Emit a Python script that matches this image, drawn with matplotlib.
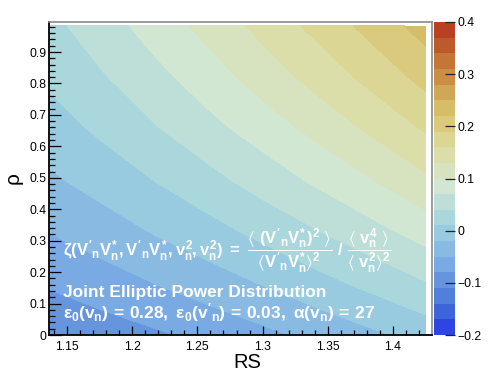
import numpy as np
import matplotlib
matplotlib.use("Agg")
import matplotlib.pyplot as plt
from matplotlib.colors import ListedColormap, BoundaryNorm, LinearSegmentedColormap
from matplotlib.ticker import MultipleLocator, FixedLocator, FixedFormatter

# ---------------- data ----------------
rs = [1.137, 1.178, 1.219, 1.260, 1.301, 1.342, 1.383, 1.425]
rho = [0.0, 0.16, 0.33, 0.49, 0.66, 0.82, 0.983]
zeta = [
    [-0.106, -0.095, -0.084, -0.071, -0.057, -0.042, -0.026, -0.008],
    [-0.077, -0.064, -0.050, -0.035, -0.019, -0.001, 0.017, 0.037],
    [-0.049, -0.034, -0.017, 0.000, 0.019, 0.039, 0.060, 0.083],
    [-0.025, -0.008, 0.011, 0.031, 0.053, 0.075, 0.098, 0.124],
    [-0.003, 0.017, 0.039, 0.062, 0.085, 0.110, 0.136, 0.164],
    [0.016, 0.038, 0.062, 0.087, 0.114, 0.141, 0.169, 0.200],
    [0.032, 0.057, 0.084, 0.111, 0.140, 0.169, 0.200, 0.233],
]
z_min, z_max, n_levels = -0.2, 0.4, 20
x_ticks = [1.15, 1.2, 1.25, 1.3, 1.35, 1.4]
x_labels = ["1.15", "1.2", "1.25", "1.3", "1.35", "1.4"]
y_ticks = [0, 0.1, 0.2, 0.3, 0.4, 0.5, 0.6, 0.7, 0.8, 0.9]
y_labels = ["0", "0.1", "0.2", "0.3", "0.4", "0.5", "0.6", "0.7", "0.8", "0.9"]
cb_ticks = [-0.2, -0.1, 0.0, 0.1, 0.2, 0.3, 0.4]
cb_labels = ["\u22120.2", "\u22120.1", "0", "0.1", "0.2", "0.3", "0.4"]

# ---------------- style ----------------
plt.rcParams["font.family"] = ["Liberation Sans", "DejaVu Sans"]
plt.rcParams["mathtext.fontset"] = "custom"
plt.rcParams["mathtext.rm"] = "Liberation Sans:bold"
plt.rcParams["mathtext.it"] = "Liberation Sans:bold"
plt.rcParams["mathtext.bf"] = "Liberation Sans:bold"
plt.rcParams["mathtext.sf"] = "Liberation Sans:bold"
plt.rcParams["mathtext.fallback"] = "stixsans"

# ROOT kLightTemperature palette
stops = [0, .125, .25, .375, .5, .625, .75, .875, 1]
red = [31, 71, 123, 160, 210, 222, 214, 199, 183]
green = [40, 117, 171, 211, 231, 220, 190, 132, 65]
blue = [234, 214, 228, 222, 210, 160, 105, 60, 34]
pal = LinearSegmentedColormap.from_list(
    "lt", [(s, (r / 255, g / 255, b / 255)) for s, r, g, b in zip(stops, red, green, blue)])
band_colors = [pal(min((i + 0.99) / n_levels, 1.0)) for i in range(n_levels)]
cmap = ListedColormap(band_colors)
levels = np.linspace(z_min, z_max, n_levels + 1)
norm = BoundaryNorm(levels, cmap.N)

W, H = 491, 374
fig = plt.figure(figsize=(W / 100, H / 100), dpi=100)
L, R, T, B = 49, 432, 22, 335
ax = fig.add_axes([L / W, 1 - B / H, (R - L) / W, (B - T) / H])
cax = fig.add_axes([434 / W, 1 - B / H, 21 / W, (B - T) / H])

X, Y = np.meshgrid(rs, rho)
cf = ax.contourf(X, Y, np.array(zeta), levels=levels, cmap=cmap, norm=norm)

ax.set_xlim(1.1362, 1.4299)
ax.set_ylim(0, 0.9955)

ax.xaxis.set_major_locator(FixedLocator(x_ticks))
ax.xaxis.set_major_formatter(FixedFormatter(x_labels))
ax.xaxis.set_minor_locator(MultipleLocator(0.01))
ax.yaxis.set_major_locator(FixedLocator(y_ticks))
ax.yaxis.set_major_formatter(FixedFormatter(y_labels))
ax.yaxis.set_minor_locator(MultipleLocator(0.02))

ax.tick_params(axis="x", which="major", direction="in", length=6.8, width=0.9,
               pad=4.5, labelsize=8.7, top=False)
ax.tick_params(axis="x", which="minor", direction="in", length=3.4, width=0.9, top=False)
ax.tick_params(axis="y", which="major", direction="in", length=8.3, width=0.9,
               pad=1.8, labelsize=8.7, right=False)
ax.tick_params(axis="y", which="minor", direction="in", length=4.1, width=0.9, right=False)

for s in ["left", "bottom"]:
    ax.spines[s].set_color("black")
    ax.spines[s].set_linewidth(1.3)
for s in ["top", "right"]:
    ax.spines[s].set_color("#8a8a8a")
    ax.spines[s].set_linewidth(1.2)

cb = fig.colorbar(cf, cax=cax, ticks=cb_ticks)
cb.outline.set_visible(False)
cax.yaxis.set_major_formatter(FixedFormatter(cb_labels))
cax.tick_params(axis="y", direction="in", length=7.5, width=0.9, color="#222222",
                pad=2, labelsize=8.7)
cax.minorticks_off()

# axis titles
fig.text(247 / W, 1 - 362 / H, "RS", ha="center", va="center", fontsize=14.5)
fig.text(13 / W, 1 - 178 / H, "\u03c1", ha="center", va="center", fontsize=15, rotation=90)

# annotations
line1 = (r"$\zeta(V'_{n}V^{*}_{n},V'_{n}V^{*}_{n},v_{n}^{2},v_{n}^{2})\ =\ "
         r"\dfrac{\langle\ (V'_{n}V^{*}_{n})^{2}\ \rangle}{\langle V'_{n}V^{*}_{n}\rangle^{2}}"
         r"\ /\ \dfrac{\langle\ v_{n}^{4}\ \rangle}{\langle\ v_{n}^{2}\rangle^{2}}$")
fig.text(63 / W, 1 - 251 / H, line1, ha="left", va="center", fontsize=12, color="white")
fig.text(63 / W, 1 - 292 / H, "Joint Elliptic Power Distribution", ha="left", va="center",
         fontsize=12.5, color="white", fontweight="bold")
line3 = (r"$\epsilon_{0}(v_{n})\,=\,0.28,\ \epsilon_{0}(v'_{n})\,=\,0.03,\ "
         r"\alpha(v_{n})\,=\,27$")
fig.text(63 / W, 1 - 313 / H, line3, ha="left", va="center", fontsize=12.5, color="white")

fig.savefig("out.png", dpi=100)
